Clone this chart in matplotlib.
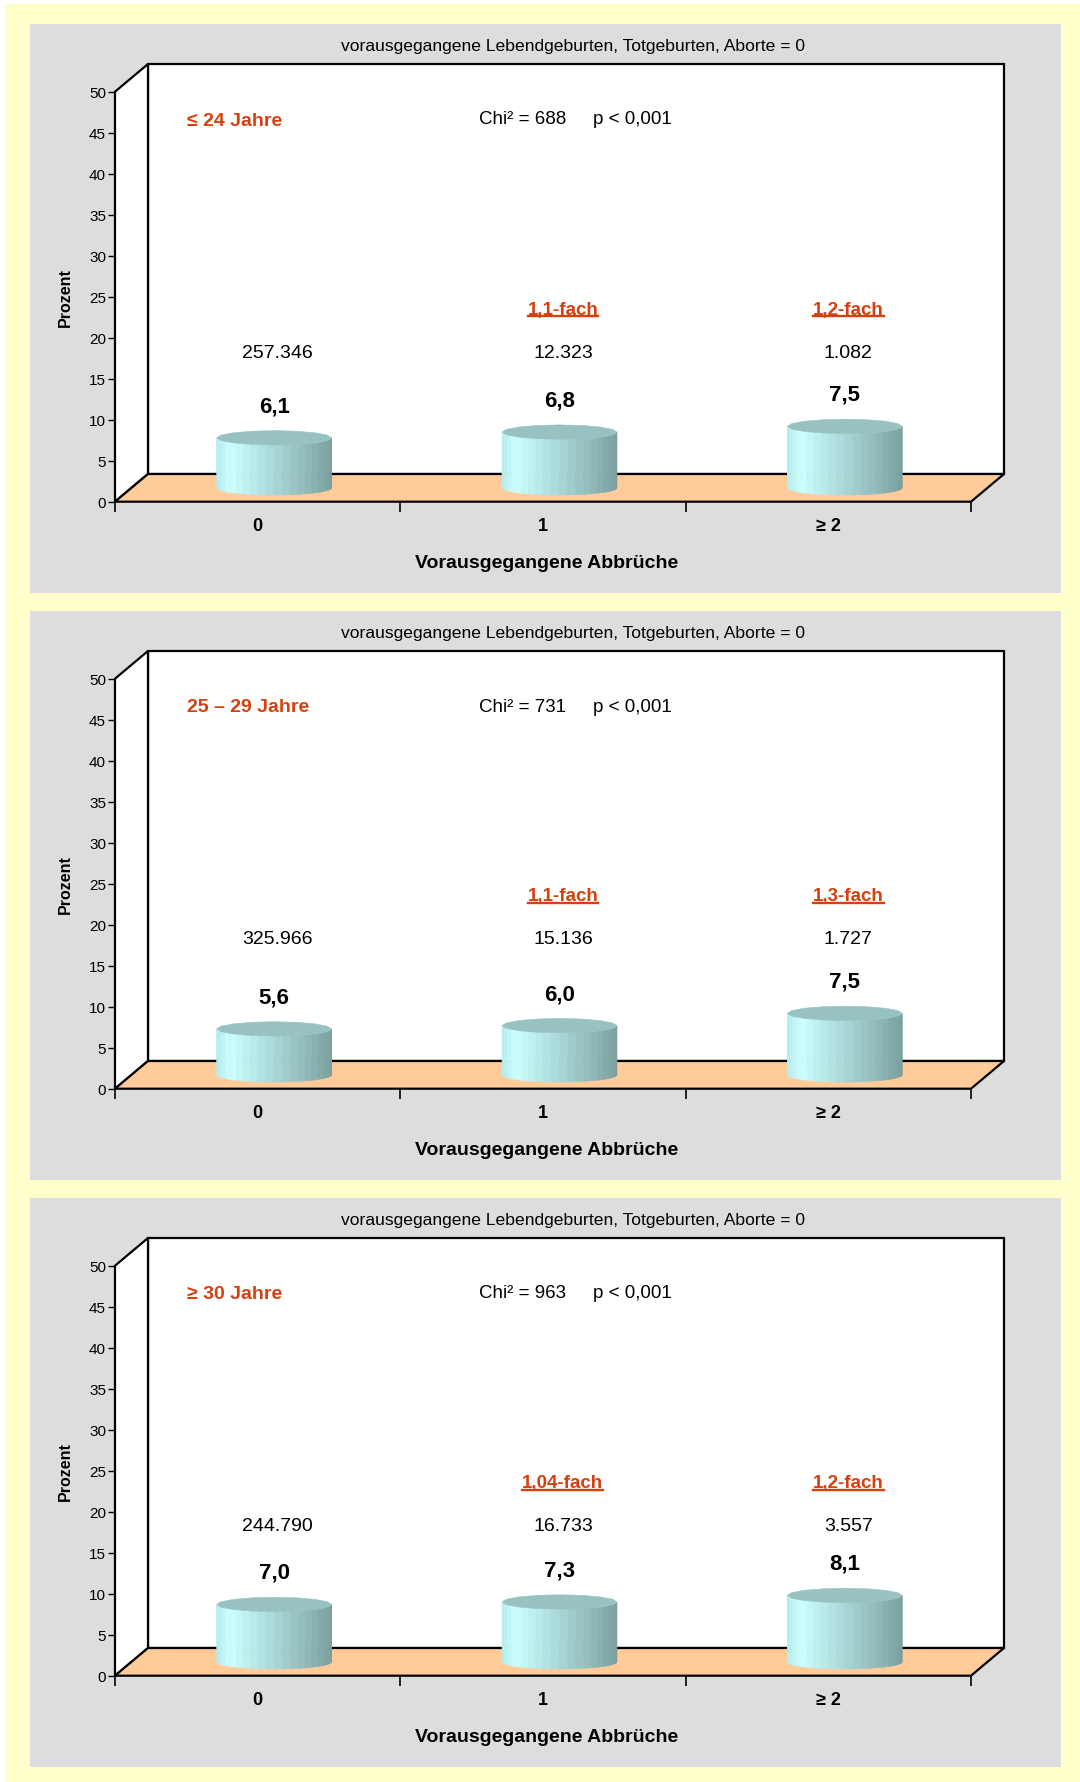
import matplotlib
matplotlib.use('Agg')
import matplotlib.pyplot as plt
import numpy as np
from matplotlib.patches import Rectangle, Polygon
from matplotlib.lines import Line2D
from matplotlib.colors import to_rgb

plt.rcParams['font.family'] = ['Liberation Sans', 'DejaVu Sans']

# ---------------- data ----------------
title = "vorausgegangene Lebendgeburten, Totgeburten, Aborte = 0"
categories = ["0", "1", "≥ 2"]
age_groups = ["≤ 24 Jahre", "25 – 29 Jahre", "≥ 30 Jahre"]
chi2 = [688, 731, 963]
p_text = "p < 0,001"
pct_u24 = [6.1, 6.8, 7.5]
pct_25_29 = [5.6, 6.0, 7.5]
pct_30 = [7.0, 7.3, 8.1]
n_u24 = ["257.346", "12.323", "1.082"]
n_25_29 = ["325.966", "15.136", "1.727"]
n_30 = ["244.790", "16.733", "3.557"]
fach_u24 = ["", "1,1-fach", "1,2-fach"]
fach_25_29 = ["", "1,1-fach", "1,3-fach"]
fach_30 = ["", "1,04-fach", "1,2-fach"]
yticks = [0, 5, 10, 15, 20, 25, 30, 35, 40, 45, 50]
xlabel = "Vorausgegangene Abbrüche"
ylabel = "Prozent"

pct_all = [pct_u24, pct_25_29, pct_30]
n_all = [n_u24, n_25_29, n_30]
fach_all = [fach_u24, fach_25_29, fach_30]

# ---------------- style ----------------
W, H = 1080, 1783
RED = '#D6400F'
FLOOR = '#FFCC99'
GRAY = '#DDDDDD'
YELLOW = '#FFFFCC'

fig = plt.figure(figsize=(W / 100, H / 100), dpi=100, facecolor='white')


def fx(x):
    return x / W


def fy(y):
    return 1 - y / H


fig.patches.append(Rectangle((fx(5), 0), (W - 5) / W, (H - 5) / H,
                             transform=fig.transFigure, facecolor=YELLOW,
                             edgecolor='none', zorder=-2))

# geometry of front plane (pixels)
AX_L, AX_R = 115, 971
AX_TOP, AX_BOT = 67.7, 477.7  # relative to panel top
PX_PER_X = (AX_R - AX_L) / 3.0
PX_PER_Y = (AX_BOT - AX_TOP) / 50.0
DX = 33 / PX_PER_X
DY = 27.7 / PX_PER_Y
RX = 57.5 / PX_PER_X
RY = 7.2 / PX_PER_Y
LW = 1.6

grad_pos = [0.0, 0.12, 0.45, 0.75, 1.0]
grad_col = [to_rgb(c) for c in ['#B5EBEB', '#CCFFFF', '#ADDCDC', '#94BDBD', '#7A9F9F']]


def grad(u):
    return tuple(np.interp(u, grad_pos, [c[i] for c in grad_col]) for i in range(3))


def cylinder(ax, cx, base, top):
    n = 22
    ts = np.linspace(np.pi, 2 * np.pi, n + 1)
    for j in range(n):
        t0, t1 = ts[j], ts[j + 1]
        x0, x1 = cx + RX * np.cos(t0), cx + RX * np.cos(t1)
        o0, o1 = RY * np.sin(t0), RY * np.sin(t1)
        u = (1 + np.cos((t0 + t1) / 2)) / 2
        col = grad(u)
        ax.add_patch(Polygon([(x0, base + o0), (x1, base + o1), (x1, top + o1), (x0, top + o0)],
                             closed=True, facecolor=col, edgecolor=col, lw=0.4,
                             clip_on=False, zorder=4))
    tt = np.linspace(0, 2 * np.pi, 17)
    ax.add_patch(Polygon(np.column_stack([cx + RX * np.cos(tt), top + RY * np.sin(tt)]),
                         closed=True, facecolor='#98C2C2', edgecolor='#98C2C2', lw=0.4,
                         clip_on=False, zorder=5))


underlines = []

for k in range(3):
    oy = 25 + 587 * k
    fig.patches.append(Rectangle((fx(30), fy(oy + 569)), (1061 - 30) / W, 569 / H,
                                 transform=fig.transFigure, facecolor=GRAY,
                                 edgecolor='none', zorder=-1))
    ax = fig.add_axes([fx(AX_L), fy(oy + AX_BOT), (AX_R - AX_L) / W, (AX_BOT - AX_TOP) / H])
    ax.set_xlim(0, 3)
    ax.set_ylim(0, 50)
    ax.patch.set_alpha(0)
    for s in ax.spines.values():
        s.set_visible(False)

    # walls and floor
    ax.add_patch(Rectangle((DX, DY), 3, 50, facecolor='white', edgecolor='black',
                           lw=LW, clip_on=False, zorder=1))
    ax.add_patch(Polygon([(0, 0), (DX, DY), (DX, 50 + DY), (0, 50)], closed=True,
                         facecolor='white', edgecolor='black', lw=LW, clip_on=False,
                         zorder=1, joinstyle='miter'))
    ax.add_patch(Polygon([(0, 0), (3, 0), (3 + DX, DY), (DX, DY)], closed=True,
                         facecolor=FLOOR, edgecolor='black', lw=LW, clip_on=False,
                         zorder=1, joinstyle='miter'))

    # ticks
    ax.set_yticks(yticks)
    ax.set_yticklabels([str(t) for t in yticks])
    ax.tick_params(axis='y', direction='out', length=5, width=1, labelsize=11, pad=1.5)
    ax.set_xticks([0, 1, 2, 3])
    ax.set_xticklabels([])
    ax.tick_params(axis='x', which='major', direction='out', length=7, width=1.2)
    ax.set_xticks([0.5, 1.5, 2.5], minor=True)
    ax.set_xticklabels(categories, minor=True, fontsize=13, fontweight='bold')
    ax.tick_params(axis='x', which='minor', length=0, pad=11)

    pct = pct_all[k]
    for i, v in enumerate(pct):
        cx = i + 0.5 + DX / 2
        base = DY / 2
        cylinder(ax, cx, base, base + v)
        ax.text(cx, base + v + 32 / PX_PER_Y, f"{v:.1f}".replace('.', ','),
                ha='center', va='center', fontsize=16, fontweight='bold', zorder=6)
        ax.text(cx + 0.012, (AX_BOT + 25 - 353) / PX_PER_Y, n_all[k][i],
                ha='center', va='center', fontsize=14, zorder=6)
        if fach_all[k][i]:
            t = ax.text(cx + 0.012, (AX_BOT + 25 - 310) / PX_PER_Y, fach_all[k][i],
                        ha='center', va='center', fontsize=13.5, fontweight='bold',
                        color=RED, zorder=6)
            underlines.append(t)

    ax.text((187 - AX_L) / PX_PER_X, (AX_BOT - 96) / PX_PER_Y, age_groups[k],
            ha='left', va='center', fontsize=14, fontweight='bold', color=RED, zorder=6)
    ax.text((478.6 - AX_L) / PX_PER_X, (AX_BOT - 95) / PX_PER_Y, f"Chi² = {chi2[k]}",
            ha='left', va='center', fontsize=13.5, zorder=6)
    ax.text((593 - AX_L) / PX_PER_X, (AX_BOT - 95) / PX_PER_Y, p_text,
            ha='left', va='center', fontsize=13.5, zorder=6)

    fig.text(fx(573), fy(oy + 21.5), title, ha='center', va='center', fontsize=12.6)
    fig.text(fx(547), fy(oy + 538.5), xlabel, ha='center', va='center', fontsize=14,
             fontweight='bold')
    fig.text(fx(65), fy(oy + 273), ylabel, ha='center', va='center', fontsize=11.5,
             fontweight='bold', rotation=90)

fig.canvas.draw()
renderer = fig.canvas.get_renderer()
for t in underlines:
    bb = t.get_window_extent(renderer)
    y = bb.y0 + 2
    fig.lines.append(Line2D([bb.x0 / W, bb.x1 / W], [y / H, y / H],
                            transform=fig.transFigure, color=RED, lw=1.7))

fig.savefig('out.png', dpi=100, facecolor='white')
